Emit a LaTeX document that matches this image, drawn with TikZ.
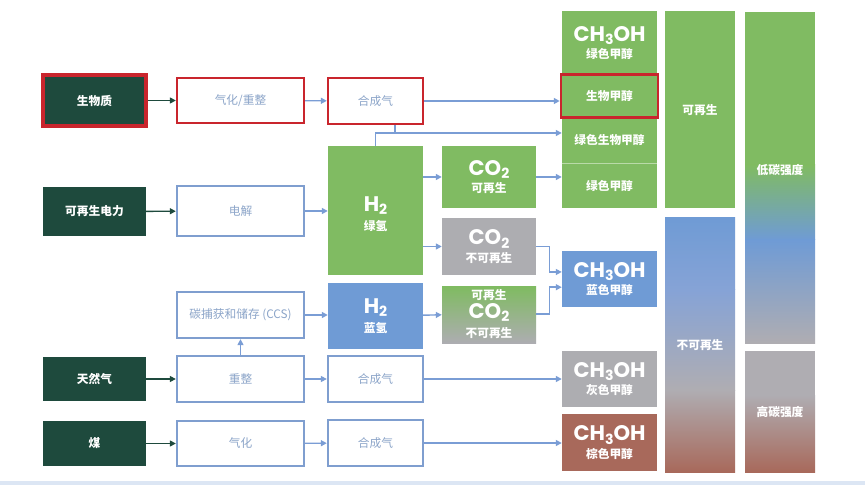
\documentclass[tikz,border=0pt]{standalone}
\usepackage{fontspec}
\setmainfont{Noto Sans CJK SC}
\newfontfamily\chemfont{Poppins}
\usetikzlibrary{arrows.meta}

\definecolor{sourcebg}   {HTML}{1E4A3D}
\definecolor{procborder} {HTML}{7F9ECF}
\definecolor{proctext}   {HTML}{8CA5C9}
\definecolor{markred}    {HTML}{C9252D}
\definecolor{greenfill}  {HTML}{80BB62}
\definecolor{bluefill}   {HTML}{6F9BD5}
\definecolor{grayfill}   {HTML}{ADADB1}
\definecolor{brownfill}  {HTML}{A8695B}
\definecolor{flowblue}   {HTML}{7A9DD5}
\definecolor{midblue}    {HTML}{86A3D6}
\definecolor{midgray}    {HTML}{AFADB2}
\definecolor{footline}   {HTML}{DCE6F4}
\definecolor{divline}    {HTML}{B9DAA8}

\newcommand{\bigchem}{\chemfont\bfseries\fontsize{18}{18}\selectfont}
\newcommand{\subnum}[1]{\raisebox{-0.3ex}{\fontsize{12}{12}\selectfont #1}}
\newcommand{\smalltag}{\fontsize{10}{11}\selectfont}

\tikzset{
  wh/.style 2 args={minimum width=#1*0.03cm, minimum height=#2*0.03cm},
  source/.style={fill=sourcebg, text=white, font=\bfseries, inner sep=0pt},
  procbox/.style={draw=procborder, line width=2pt, fill=white, text=proctext, inner sep=0pt},
  fillbox/.style={fill=#1, text=white, inner sep=0pt, align=center},
  redmark/.style={draw=markred, line width=2.2pt},
  flow/.style={draw=flowblue, line width=1.2pt, -{Triangle[length=5pt,width=5pt]}},
  feed/.style={draw=sourcebg, line width=1.2pt, -{Triangle[length=5pt,width=5pt]}},
  collabel/.style={text=white, font=\bfseries, inner sep=0pt}
}

\begin{document}
\begin{tikzpicture}[x=0.03cm, y=-0.03cm]
\fill[white] (0,0) rectangle (865,485);
\useasboundingbox (0,0) rectangle (865,485);

%% ── Sources ─────────────────────────────────────────────
\node[source, wh={103}{51}, redmark, line width=2.6pt] (biomass) at (94.5,100.5) {生物质};
\node[source, wh={103}{49}] (power) at (94.5,211.5) {可再生电力};
\node[source, wh={103}{44}] (natgas) at (94.5,379) {天然气};
\node[source, wh={103}{45}] (coal) at (94.5,443.5) {煤};

%% ── Processes ───────────────────────────────────────────
\node[procbox, wh={127}{45}, draw=markred] (gasref) at (240.5,100.5) {气化/重整};
\node[procbox, wh={127}{50}] (electro) at (240.5,211) {电解};
\node[procbox, wh={127}{46}] (ccs) at (240.5,315) {碳捕获和储存 (CCS)};
\node[procbox, wh={127}{46}] (reform) at (240.5,379) {重整};
\node[procbox, wh={127}{45}] (gasify) at (240.5,443.5) {气化};

%% ── Syngas and hydrogen ─────────────────────────────────
\node[procbox, wh={95}{46}, draw=markred] (syngasA) at (375.5,101) {合成气};
\node[fillbox=greenfill, wh={95}{129}] (greenH) at (375.5,210.5) {};
\node[text=white, align=center, inner sep=0pt] (greenHtxt) at (375.5,214)
  {{\bigchem H\subnum{2}}\\[4pt]{\smalltag\bfseries 绿氢}};
\node[fillbox=bluefill, wh={95}{65}] (blueH) at (375.5,316)
  {{\bigchem H\subnum{2}}\\[4pt]{\smalltag\bfseries 蓝氢}};
\node[procbox, wh={95}{46}] (syngasB) at (375.5,379) {合成气};
\node[procbox, wh={95}{46}] (syngasC) at (375.5,443) {合成气};

%% ── Carbon dioxide ──────────────────────────────────────
\node[fillbox=greenfill, wh={94}{62}] (co2ren) at (489,177)
  {{\bigchem CO\subnum{2}}\\[3pt]{\smalltag\bfseries 可再生}};
\node[fillbox=grayfill, wh={94}{57}] (co2fos) at (489,246.5)
  {{\bigchem CO\subnum{2}}\\[3pt]{\smalltag\bfseries 不可再生}};
\shade[top color=greenfill, bottom color=grayfill] (442,287) rectangle (536,343);
\node[text=white, align=center, inner sep=0pt, wh={94}{56}] (co2mix) at (489,314)
  {{\smalltag\bfseries 可再生}\\[1pt]{\bigchem CO\subnum{2}}\\[4pt]{\smalltag\bfseries 不可再生}};

%% ── Methanol ────────────────────────────────────────────
\node[fillbox=greenfill, wh={95}{64}] (mgreen) at (609.5,43)
  {{\bigchem CH\subnum{3}OH}\\[3pt]{\smalltag\bfseries 绿色甲醇}};
\node[fillbox=greenfill, wh={95}{46}, font=\bfseries] (mgbio) at (609.5,140) {绿色生物甲醇};
\node[fillbox=greenfill, wh={95}{45}, font=\bfseries] (mgel) at (609.5,185.5) {绿色甲醇};
\draw[divline, line width=0.8pt] (mgbio.south west) -- (mgbio.south east);
\node[fillbox=greenfill, wh={97}{43}, redmark, font=\bfseries] (mbio) at (609.5,96) {生物甲醇};
\node[fillbox=bluefill, wh={95}{56}] (mblue) at (609.5,279)
  {{\bigchem CH\subnum{3}OH}\\[3pt]{\smalltag\bfseries 蓝色甲醇}};
\node[fillbox=grayfill, wh={95}{56}] (mgray) at (609.5,379)
  {{\bigchem CH\subnum{3}OH}\\[3pt]{\smalltag\bfseries 灰色甲醇}};
\node[fillbox=brownfill, wh={95}{57}] (mbrown) at (609.5,442.5)
  {{\bigchem CH\subnum{3}OH}\\[3pt]{\smalltag\bfseries 棕色甲醇}};

%% ── Renewable / carbon intensity bars ───────────────────
\fill[greenfill] (665,11) rectangle (735,208);
\node[collabel] (renew) at (700,110) {可再生};
\shade[top color=bluefill, bottom color=midblue] (665,218) rectangle (735,290);
\shade[top color=midblue, bottom color=midgray] (665,290) rectangle (735,390);
\shade[top color=midgray, bottom color=brownfill] (665,390) rectangle (735,472);
\node[collabel] (nonrenew) at (700,345) {不可再生};

\fill[greenfill] (745,12) rectangle (815,165);
\shade[top color=greenfill, bottom color=bluefill] (745,165) rectangle (815,240);
\shade[top color=bluefill, bottom color=midgray] (745,240) rectangle (815,343);
\node[collabel] (lowci) at (780,170) {低碳强度};
\fill[midgray] (745,351) rectangle (815,395);
\shade[top color=midgray, bottom color=brownfill] (745,395) rectangle (815,472);
\node[collabel] (highci) at (780,412) {高碳强度};

%% ── Connectors ──────────────────────────────────────────
\draw[feed] (biomass) -- (gasref);
\draw[feed] (power) -- (electro);
\draw[feed] (natgas) -- (reform);
\draw[feed] (coal) -- (gasify);

\draw[flow] (gasref) -- (syngasA);
\draw[flow] (syngasA.east) -- (syngasA.east -| mbio.west);
\coordinate (join) at (395,133);
\draw[flowblue, line width=1.2pt] (syngasA.south -| join) -- (join);
\draw[flow] (greenH.north) |- (join -| mgbio.west);

\draw[flow] (electro) -- (electro.east -| greenH.west);
\draw[flow] (greenH.east |- co2ren.west) -- (co2ren.west);
\draw[flow] (co2ren.east) -- (co2ren.east -| mgel.west);
\draw[flow] (greenH.east |- co2fos.west) -- (co2fos.west);
\draw[flow] (co2fos.east) -- ++(13,0) |- ([yshift=6pt]mblue.west);
\draw[flow] (co2mix.east) -- ++(13,0) |- ([yshift=-7pt]mblue.west);

\draw[flow] (reform) -- (ccs);
\draw[flow] (ccs) -- (ccs.east -| blueH.west);
\draw[flow] (blueH) -- (co2mix);

\draw[flow] (reform) -- (syngasB);
\draw[flow] (syngasB) -- (syngasB.east -| mgray.west);
\draw[flow] (gasify) -- (syngasC);
\draw[flow] (syngasC) -- (syngasC.east -| mbrown.west);

\fill[footline] (0,481) rectangle (865,485);
\end{tikzpicture}
\end{document}
